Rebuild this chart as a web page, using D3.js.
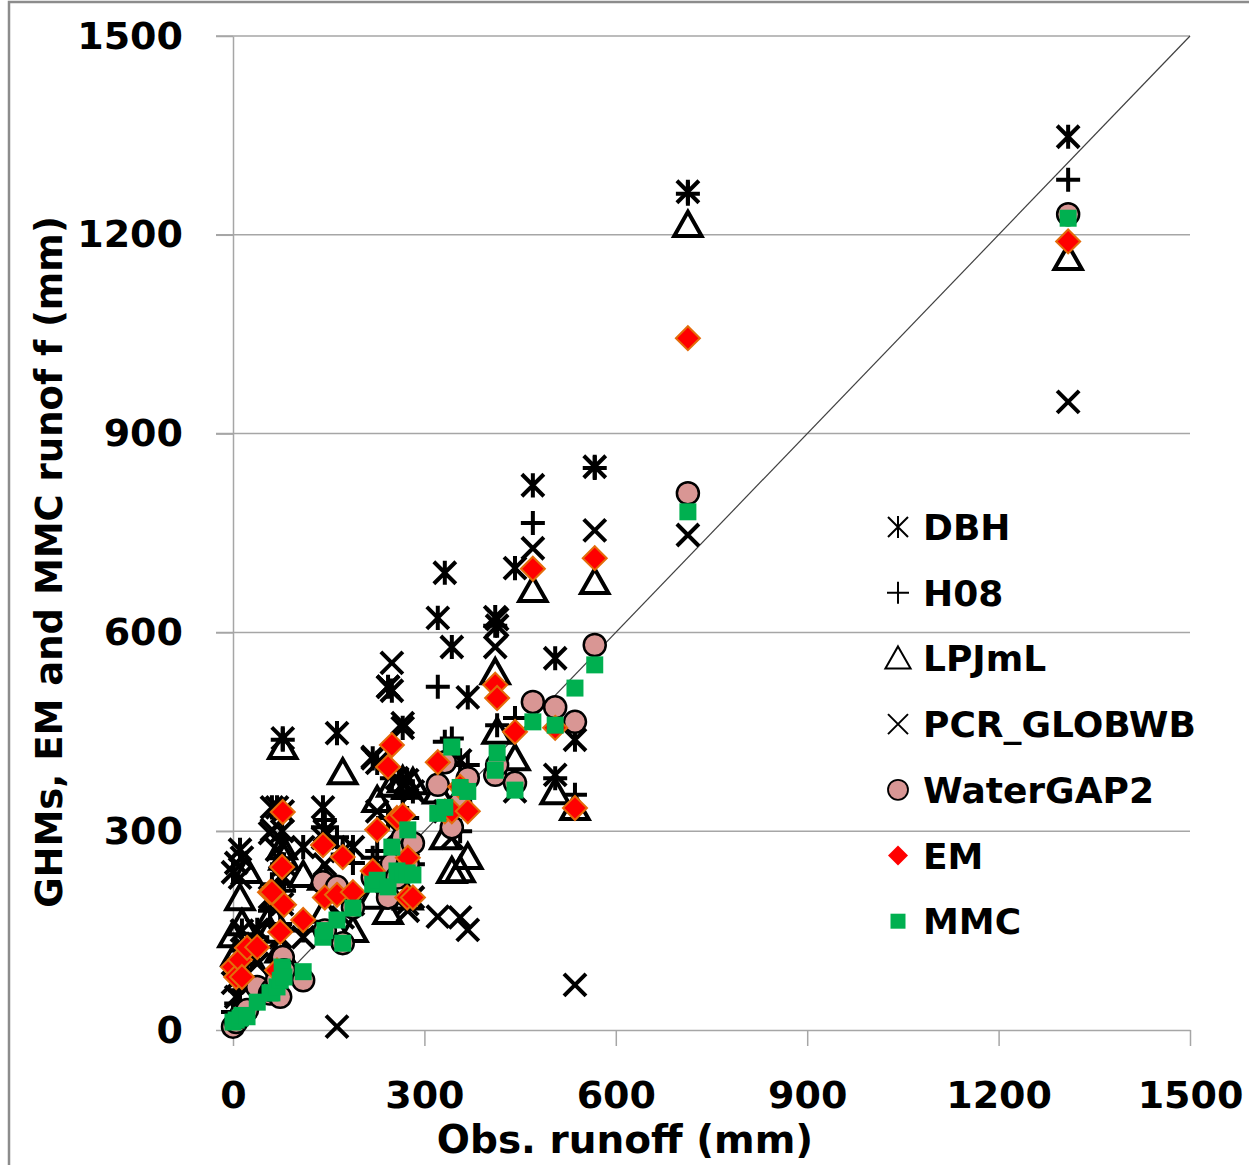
<!DOCTYPE html>
<html>
<head>
<meta charset="utf-8">
<script src="https://cdn.jsdelivr.net/npm/d3@7"></script>
<style>
  body { margin: 0; background: #fff; }
  text { font-family: "DejaVu Sans", Verdana, sans-serif; font-weight: bold; fill: #000; }
</style>
</head>
<body>
<svg id="chart" width="1249" height="1165"></svg>
<script>
"use strict";

// observed runoff per station (mm)
var obs = [0, 5, 11, 14, 22, 38, 58, 61, 69, 74, 77, 78, 80, 110, 141, 144, 163, 172, 188, 219,
           226, 243, 249, 257, 266, 273, 274, 282, 321, 332, 343, 356, 368, 411, 414, 442, 470,
           505, 536, 567, 713, 1309];

// simulated runoff per model, same station order
var dbh = [238, 50, 272, 150, 130, 151, 200, 336, 336, 231, 300, 440, 250, 276, 336, 300, 448, 270, 276, 410,
           403, 518, 512, 300, 456, 377, 250, 360, 622, 690, 578, 407, 502, 623, 610, 697, 822,
           561, 438, 850, 1265, 1348];
var h08 = [27, 40, 60, 120, 100, 140, 180, 220, 200, 160, 250, 438, 210, 150, 306, 317, 291, 265, 252, 260,
           270, 320, 380, 280, 350, 320, 250, 250, 518, 435, 440, 300, 400, 610, 460, 471, 765,
           380, 355, 848, 1262, 1283];
var lpjml = [143, 115, 199, 161, 240, 90, 150, 175, 200, 120, 276, 427, 260, 234, 230, 180, 150, 389, 151, 201,
             347, 178, 370, 260, 377, 367, 200, 374, 360, 291, 240, 241, 261, 540, 450, 410, 664,
             359, 335, 676, 1215, 1165];
var pcr = [71, 252, 230, 260, 120, 100, 297, 302, 272, 140, 190, 330, 230, 140, 290, 250, 5, 170, 190, 412,
           330, 518, 554, 380, 463, 190, 180, 200, 171, 330, 290, 170, 151, 578, 620, 360, 727,
           385, 68, 754, 747, 948];
var watergap = [5, 12, 20, 25, 30, 65, 55, 60, 75, 50, 106, 110, 90, 75, 223, 150, 216, 131, 185, 230,
                237, 200, 250, 230, 290, 270, 250, 282, 370, 404, 306, 343, 380, 385, 400, 373, 495,
                487, 465, 581, 810, 1231];
var em = [95, 80, 106, 80, 124, 125, 208, 208, 90, 148, 246, 329, 189, 166, 279, 200, 204, 261, 208, 240,
          302, 397, 430, 320, 324, 200, 260, 200, 404, 330, 330, 367, 330, 521, 501, 450, 696,
          456, 335, 712, 1044, 1190];
var mmc = [12, 15, 18, 22, 20, 42, 56, 56, 65, 75, 95, 90, 80, 88, 140, 150, 166, 131, 184, 220,
           226, 216, 276, 240, 234, 237, 302, 234, 327, 336, 427, 366, 360, 392, 418, 362, 465,
           460, 516, 551, 782, 1225];

var seriesNames = ["DBH", "H08", "LPJmL", "PCR_GLOBWB", "WaterGAP2", "EM", "MMC"];
var seriesValues = [dbh, h08, lpjml, pcr, watergap, em, mmc];
var axisTicks = [0, 300, 600, 900, 1200, 1500];

var svg = d3.select("#chart");

var x = d3.scaleLinear().domain([0, 1500]).range([233, 1190]);
var y = d3.scaleLinear().domain([0, 1500]).range([1030, 36]);

// marker shapes, drawn around 0,0
var shapes = {
    DBH: function (h) { return "M" + (-h) + "," + (-h) + "L" + h + "," + h + "M" + (-h) + "," + h + "L" + h + "," + (-h) + "M0," + (-h * 1.1) + "L0," + (h * 1.1); },
    H08: function (h) { return "M" + (-h) + ",0L" + h + ",0M0," + (-h) + "L0," + h; },
    LPJmL: function (h) { return "M0," + (-h) + "L" + (h * 1.05) + "," + (h * 0.85) + "L" + (-h * 1.05) + "," + (h * 0.85) + "Z"; },
    PCR_GLOBWB: function (h) { return "M" + (-h) + "," + (-h) + "L" + h + "," + h + "M" + (-h) + "," + h + "L" + h + "," + (-h); },
    WaterGAP2: function (h) { return "M" + (-h) + ",0A" + h + "," + h + " 0 1,1 " + h + ",0A" + h + "," + h + " 0 1,1 " + (-h) + ",0Z"; },
    EM: function (h) { return "M0," + (-h) + "L" + h + ",0L0," + h + "L" + (-h) + ",0Z"; },
    MMC: function (h) { return "M" + (-h) + "," + (-h) + "H" + h + "V" + h + "H" + (-h) + "Z"; }
};

var plotSize = { DBH: 11, H08: 12, LPJmL: 13, PCR_GLOBWB: 11, WaterGAP2: 11, EM: 12, MMC: 8.5 };
var legendSize = { DBH: 10, H08: 11, LPJmL: 12, PCR_GLOBWB: 10, WaterGAP2: 10, EM: 10, MMC: 7.5 };

function styleMarker(sel, name, legend) {
    var sw = legend ? 2 : 4;
    if (name === "WaterGAP2") {
        sel.attr("fill", "#d99694").attr("stroke", "#000").attr("stroke-width", legend ? 1.8 : 2.5);
    } else if (name === "EM") {
        sel.attr("fill", "#ff0000").attr("stroke", "#e46c0a").attr("stroke-width", legend ? 0 : 2);
    } else if (name === "MMC") {
        sel.attr("fill", "#00b050").attr("stroke", "none");
    } else {
        sel.attr("fill", "none").attr("stroke", "#000").attr("stroke-width", sw);
    }
}

// outer frame
svg.append("rect")
    .attr("x", 9).attr("y", 2).attr("width", 1400).attr("height", 1400)
    .attr("fill", "none").attr("stroke", "#8c8c8c").attr("stroke-width", 2.5);

// horizontal gridlines
svg.append("g").selectAll("line")
    .data(axisTicks.slice(1))
    .join("line")
    .attr("x1", 216).attr("x2", x(1500))
    .attr("y1", function (d) { return y(d); })
    .attr("y2", function (d) { return y(d); })
    .attr("stroke", "#a6a6a6").attr("stroke-width", 1.5);

// axes
var fmt = d3.format("d");
var yAxis = svg.append("g")
    .attr("transform", "translate(" + x(0) + ",0)")
    .call(d3.axisLeft(y).tickValues(axisTicks).tickFormat(fmt).tickSize(17).tickSizeOuter(0).tickPadding(33));
var xAxis = svg.append("g")
    .attr("transform", "translate(0," + y(0) + ")")
    .call(d3.axisBottom(x).tickValues(axisTicks).tickFormat(fmt).tickSize(16).tickSizeOuter(0).tickPadding(35));

[xAxis, yAxis].forEach(function (ax) {
    ax.select(".domain").attr("stroke", "#a6a6a6").attr("stroke-width", 1.5);
    ax.selectAll(".tick line").attr("stroke", "#a6a6a6").attr("stroke-width", 1.5);
    ax.selectAll(".tick text")
        .attr("fill", "#000")
        .style("font-family", "'DejaVu Sans', Verdana, sans-serif")
        .style("font-weight", "bold")
        .style("font-size", "38px");
});

// 1:1 line
svg.append("line")
    .attr("x1", x(0)).attr("y1", y(0))
    .attr("x2", x(1500)).attr("y2", y(1500))
    .attr("stroke", "#404040").attr("stroke-width", 1.2);

// points, one layer per series
seriesNames.forEach(function (name, i) {
    var vals = seriesValues[i];
    svg.append("g").attr("class", "series")
        .selectAll("path")
        .data(obs.map(function (o, k) { return [o, vals[k]]; }))
        .join("path")
        .attr("d", shapes[name](plotSize[name]))
        .attr("transform", function (d) { return "translate(" + x(d[0]) + "," + y(d[1]) + ")"; })
        .call(styleMarker, name, false);
});

// legend
var legend = svg.append("g").attr("transform", "translate(898,527)");
var row = legend.selectAll("g")
    .data(seriesNames)
    .join("g")
    .attr("transform", function (d, i) { return "translate(0," + (i * 65.7) + ")"; });
row.append("path")
    .attr("d", function (d) { return shapes[d](legendSize[d]); })
    .each(function (d) { d3.select(this).call(styleMarker, d, true); });
row.append("text")
    .attr("x", 25).attr("y", 13)
    .style("font-size", "36px")
    .text(function (d) { return d; });

// axis titles
svg.append("text")
    .attr("x", 625).attr("y", 1153)
    .attr("text-anchor", "middle")
    .style("font-size", "39px")
    .text("Obs. runoff (mm)");
svg.append("text")
    .attr("transform", "translate(62,562) rotate(-90)")
    .attr("text-anchor", "middle")
    .style("font-size", "37px")
    .text("GHMs, EM and MMC runof f (mm)");
</script>
</body>
</html>
